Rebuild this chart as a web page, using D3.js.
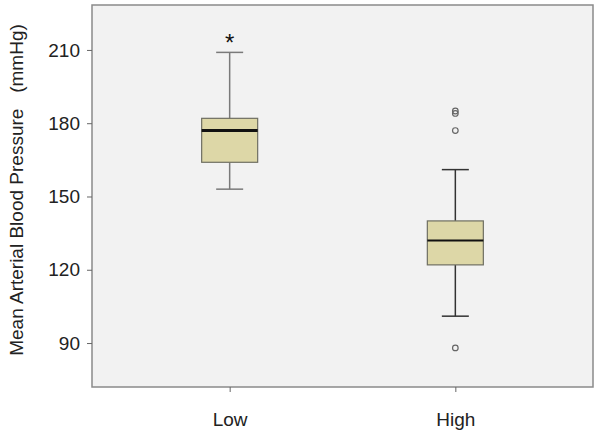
<!DOCTYPE html>
<html>
<head>
<meta charset="utf-8">
<script src="https://cdn.jsdelivr.net/npm/d3@7"></script>
<style>
  body { margin: 0; background: #fff; }
  text { font-family: "Liberation Sans", Arial, sans-serif; }
</style>
</head>
<body>
<div id="container"></div>
<script>
const groups = ["Low", "High"]
const whiskerLow = [153, 101]
const q1 = [164, 122]
const median = [177, 132]
const q3 = [182, 140]
const whiskerHigh = [209, 161]
const outliers = [[], [185, 184, 177, 88]]
const extremes = [[214], []]
const yTicks = [90, 120, 150, 180, 210]

const width = 600
const height = 435
const margin = {top: 5, right: 7, bottom: 48, left: 92}

const svg = d3.select("#container").append("svg")
    .attr("width", width)
    .attr("height", height)

const x = d3.scalePoint()
    .domain(groups)
    .range([margin.left, width - margin.right])
    .padding(0.61)

const y = d3.scaleLinear()
    .domain([72, 228.4])
    .range([height - margin.bottom, margin.top])

// plot background
svg.append("rect")
    .attr("x", margin.left)
    .attr("y", margin.top)
    .attr("width", width - margin.left - margin.right)
    .attr("height", height - margin.top - margin.bottom)
    .style("fill", "#f2f2f2")
    .style("stroke", "#8a8a8a")
    .style("stroke-width", 1.5)

const yAxis = svg.append("g")
    .attr("transform", `translate(${margin.left},0)`)
    .call(d3.axisLeft(y).tickValues(yTicks).tickSize(5).tickPadding(7))
yAxis.select(".domain").remove()
yAxis.selectAll("line").attr("stroke", "#666")
yAxis.selectAll("text").attr("font-size", 19).attr("fill", "#222")

const xAxis = svg.append("g")
    .attr("transform", `translate(0,${height - margin.bottom})`)
    .call(d3.axisBottom(x).tickSize(5).tickPadding(21))
xAxis.select(".domain").remove()
xAxis.selectAll("line").attr("stroke", "#666")
xAxis.selectAll("text").attr("font-size", 19).attr("fill", "#222")

svg.append("text")
    .attr("transform", `translate(23,${(margin.top + height - margin.bottom) / 2 - 6}) rotate(-90)`)
    .attr("text-anchor", "middle")
    .attr("font-size", 19)
    .attr("fill", "#222")
    .attr("xml:space", "preserve")
    .text("Mean Arterial Blood Pressure   (mmHg)")

const boxWidth = 56
const capWidth = 27
const whiskerColor = ["#7a7a7a", "#333"]
const medianWidth = [3, 2]

groups.forEach((g, i) => {
    const cx = x(g)
    const grp = svg.append("g")

    grp.append("line")
        .attr("x1", cx).attr("x2", cx)
        .attr("y1", y(whiskerHigh[i])).attr("y2", y(q3[i]))
        .attr("stroke", whiskerColor[i]).attr("stroke-width", 1.5)
    grp.append("line")
        .attr("x1", cx).attr("x2", cx)
        .attr("y1", y(q1[i])).attr("y2", y(whiskerLow[i]))
        .attr("stroke", whiskerColor[i]).attr("stroke-width", 1.5)

    ;[whiskerHigh[i], whiskerLow[i]].forEach(v => {
        grp.append("line")
            .attr("x1", cx - capWidth / 2).attr("x2", cx + capWidth / 2)
            .attr("y1", y(v)).attr("y2", y(v))
            .attr("stroke", whiskerColor[i]).attr("stroke-width", 1.5)
    })

    grp.append("rect")
        .attr("x", cx - boxWidth / 2)
        .attr("y", y(q3[i]))
        .attr("width", boxWidth)
        .attr("height", y(q1[i]) - y(q3[i]))
        .style("fill", "#ddd7a7")
        .style("stroke", "#6f6f62")
        .style("stroke-width", 1.2)

    grp.append("line")
        .attr("x1", cx - boxWidth / 2).attr("x2", cx + boxWidth / 2)
        .attr("y1", y(median[i])).attr("y2", y(median[i]))
        .attr("stroke", "#111").attr("stroke-width", medianWidth[i])

    grp.selectAll(".outlier")
        .data(outliers[i])
        .enter()
        .append("circle")
        .attr("class", "outlier")
        .attr("cx", cx)
        .attr("cy", d => y(d))
        .attr("r", 2.8)
        .style("fill", "none")
        .style("stroke", "#666")
        .style("stroke-width", 1.2)

    grp.selectAll(".extreme")
        .data(extremes[i])
        .enter()
        .append("text")
        .attr("class", "extreme")
        .attr("x", cx)
        .attr("y", d => y(d) + 11)
        .attr("text-anchor", "middle")
        .attr("font-size", 24)
        .attr("fill", "#111")
        .text("*")
})
</script>
</body>
</html>
